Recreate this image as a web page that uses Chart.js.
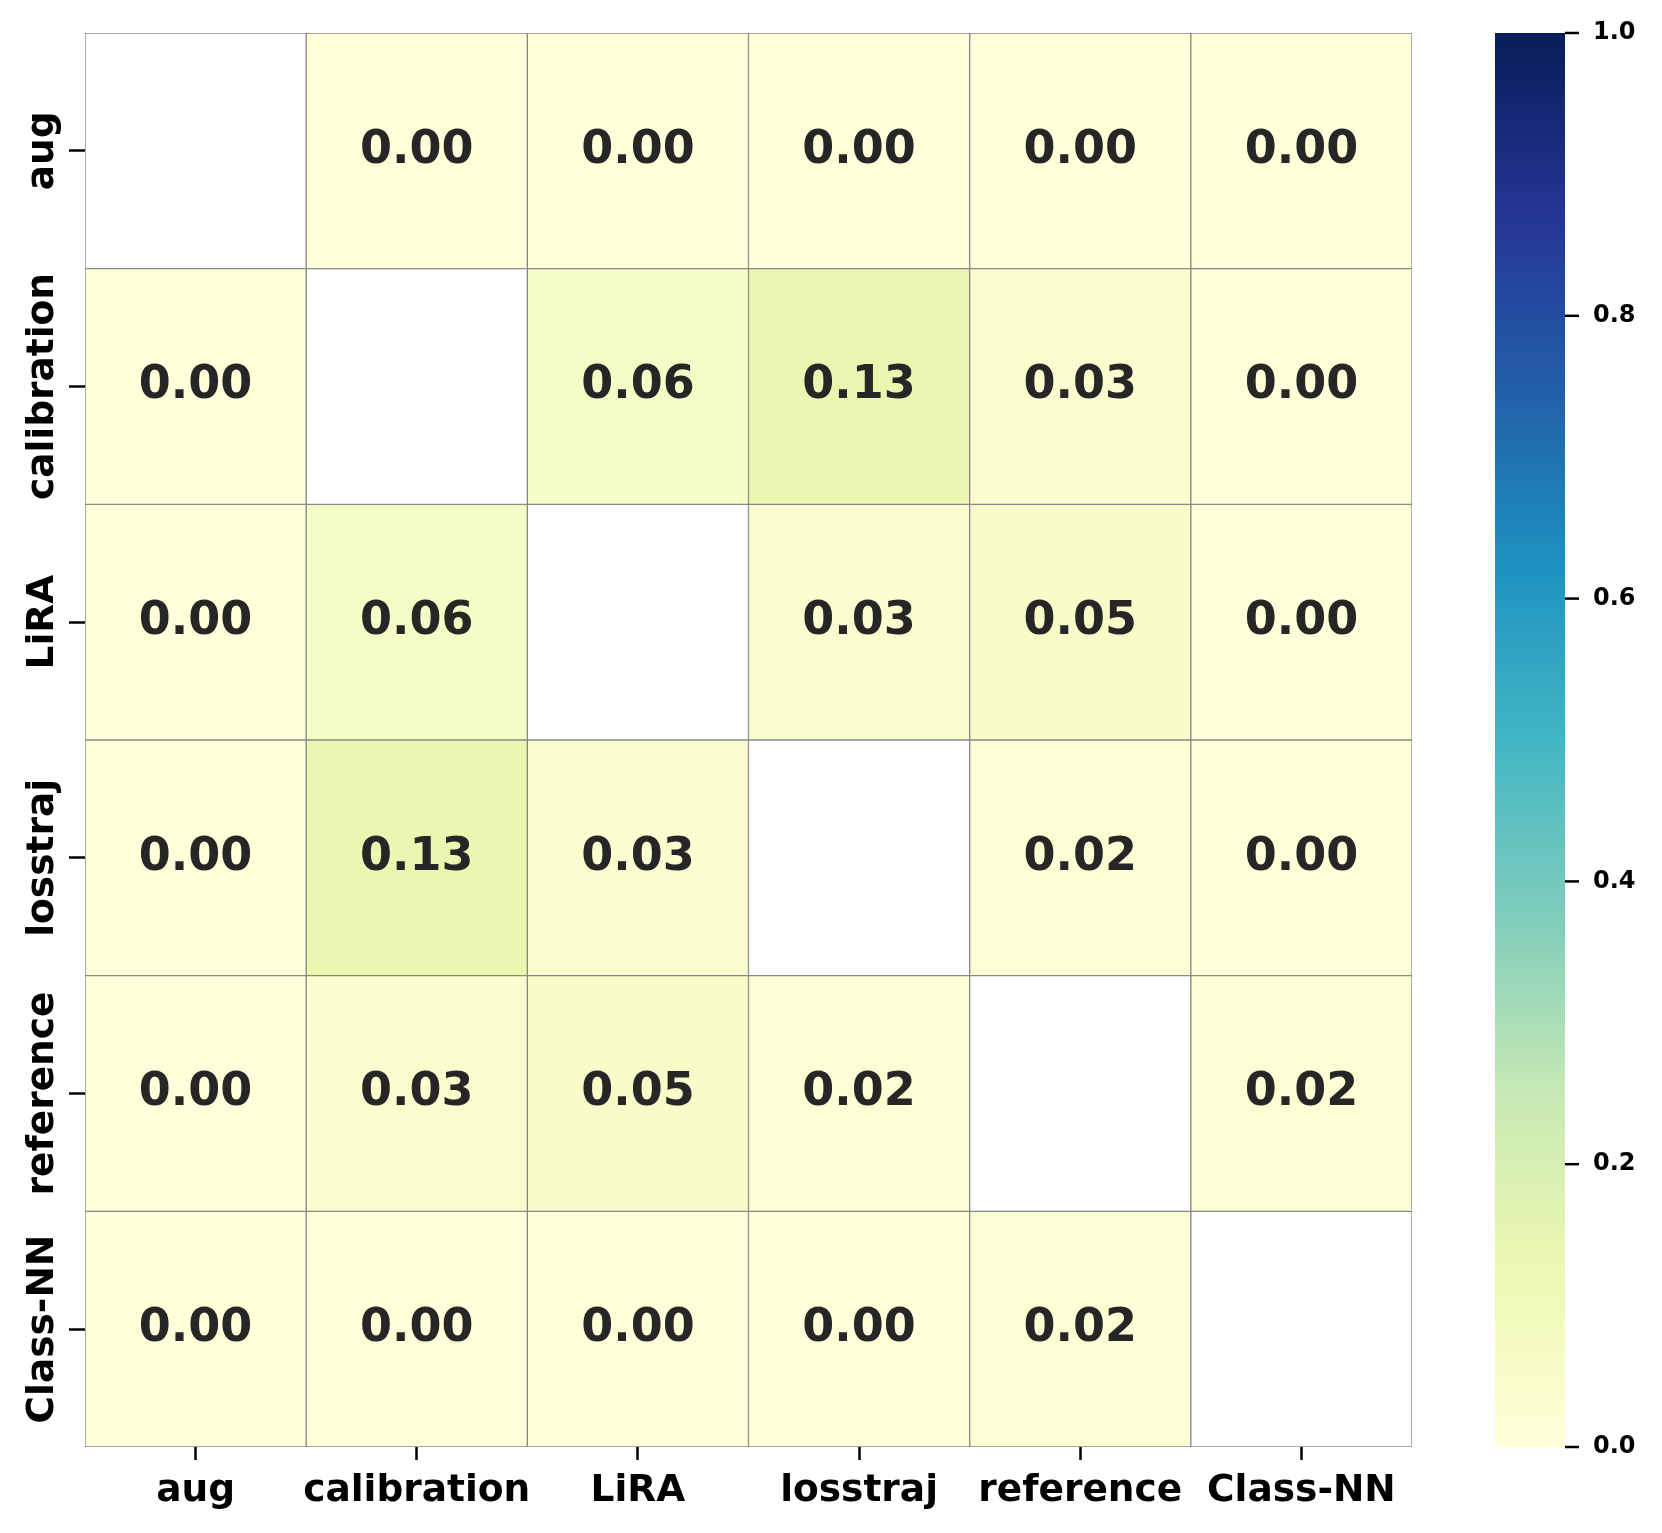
<!DOCTYPE html>
<html>
<head>
<meta charset="utf-8">
<script src="https://cdn.jsdelivr.net/npm/chart.js@4/dist/chart.umd.min.js"></script>
<style>
html,body{margin:0;padding:0;background:#fff;}
#wrap{width:1662px;height:1533px;}
</style>
</head>
<body>
<div id="wrap"><canvas id="c" width="1662" height="1533"></canvas></div>
<script>
// ---- data ----
const categories = ['aug', 'calibration', 'LiRA', 'losstraj', 'reference', 'Class-NN'];
const rowAug         = [null, 0.00, 0.00, 0.00, 0.00, 0.00];
const rowCalibration = [0.00, null, 0.06, 0.13, 0.03, 0.00];
const rowLiRA        = [0.00, 0.06, null, 0.03, 0.05, 0.00];
const rowLosstraj    = [0.00, 0.13, 0.03, null, 0.02, 0.00];
const rowReference   = [0.00, 0.03, 0.05, 0.02, null, 0.02];
const rowClassNN     = [0.00, 0.00, 0.00, 0.00, 0.02, null];
const colorbarTicks  = [0.0, 0.2, 0.4, 0.6, 0.8, 1.0];
const colorMin = 0, colorMax = 1;

const rows = [rowAug, rowCalibration, rowLiRA, rowLosstraj, rowReference, rowClassNN];

// YlGnBu colormap
const ylgnbu = ['#ffffd9','#edf8b1','#c7e9b4','#7fcdbb','#41b6c4','#1d91c0','#225ea8','#253494','#081d58'];
function hexToRgb(h){return [parseInt(h.substr(1,2),16),parseInt(h.substr(3,2),16),parseInt(h.substr(5,2),16)];}
function cmap(v){
  let t = (v - colorMin) / (colorMax - colorMin);
  t = Math.max(0, Math.min(1, t));
  const n = ylgnbu.length - 1;
  const i = Math.min(n - 1, Math.floor(t * n));
  const f = t * n - i;
  const a = hexToRgb(ylgnbu[i]), b = hexToRgb(ylgnbu[i+1]);
  const c = a.map((x,k)=>Math.round(x + (b[k]-x)*f));
  return 'rgb(' + c.join(',') + ')';
}

const FONT = "'DejaVu Sans', sans-serif";

const datasets = rows.map((vals, r) => ({
  label: categories[r],
  data: vals.map(() => [r, r + 1]),
  values: vals,
  backgroundColor: vals.map(v => v === null ? '#ffffff' : cmap(v)),
  borderColor: '#888888',
  borderWidth: 1,
  borderSkipped: false,
  barPercentage: 1,
  categoryPercentage: 1,
  grouped: false
}));

const heatPlugin = {
  id: 'heatPlugin',
  afterDatasetsDraw(chart) {
    const ctx = chart.ctx;
    ctx.save();
    ctx.font = 'bold 46px ' + FONT;
    ctx.fillStyle = '#262626';
    ctx.textAlign = 'center';
    ctx.textBaseline = 'middle';
    chart.data.datasets.forEach((ds, i) => {
      const meta = chart.getDatasetMeta(i);
      meta.data.forEach((el, j) => {
        const v = ds.values[j];
        if (v === null) return;
        const p = el.getCenterPoint();
        ctx.fillText(v.toFixed(2), p.x, p.y);
      });
    });
    ctx.restore();
  },
  afterDraw(chart) {
    const ctx = chart.ctx;
    const ca = chart.chartArea;
    const ys = chart.scales.y;
    ctx.save();
    // y tick labels (rotated)
    ctx.font = 'bold 37.5px ' + FONT;
    ctx.fillStyle = '#000';
    ctx.textAlign = 'center';
    ctx.textBaseline = 'alphabetic';
    categories.forEach((lab, i) => {
      const y = ys.getPixelForValue(i + 0.5);
      ctx.save();
      ctx.translate(ca.left - 32, y);
      ctx.rotate(-Math.PI / 2);
      ctx.fillText(lab, 0, 0);
      ctx.restore();
    });
    // colorbar
    const x0 = ca.right + 83, w = 70, top = ca.top, bot = ca.bottom;
    const g = ctx.createLinearGradient(0, bot, 0, top);
    ylgnbu.forEach((c, k) => g.addColorStop(k / (ylgnbu.length - 1), c));
    ctx.fillStyle = g;
    ctx.fillRect(x0, top, w, bot - top);
    ctx.strokeStyle = '#000';
    ctx.lineWidth = 2.5;
    ctx.font = 'bold 24px ' + FONT;
    ctx.fillStyle = '#000';
    ctx.textAlign = 'left';
    ctx.textBaseline = 'middle';
    colorbarTicks.forEach(t => {
      const y = bot - (t - colorMin) / (colorMax - colorMin) * (bot - top);
      ctx.beginPath();
      ctx.moveTo(x0 + w, y);
      ctx.lineTo(x0 + w + 14, y);
      ctx.stroke();
      ctx.fillText(t.toFixed(1), x0 + w + 28, y);
    });
    ctx.restore();
  }
};

new Chart(document.getElementById('c'), {
  type: 'bar',
  data: { labels: categories, datasets },
  options: {
    responsive: false,
    animation: false,
    devicePixelRatio: 1,
    layout: { padding: { left: 0, right: 250, top: 33, bottom: 0 } },
    plugins: { legend: { display: false }, tooltip: { enabled: false } },
    scales: {
      x: {
        type: 'category',
        offset: true,
        border: { display: false },
        grid: { display: true, drawOnChartArea: false, drawTicks: true, tickLength: 13, tickWidth: 2.5, color: '#000', offset: false },
        ticks: { color: '#000', font: { family: FONT, size: 37.5, weight: 'bold' }, padding: 9, maxRotation: 0, minRotation: 0, autoSkip: false },
        afterFit: (s) => { s.height = 86; }
      },
      y: {
        type: 'linear',
        min: 0, max: 6,
        reverse: true,
        border: { display: false },
        afterBuildTicks: (s) => { s.ticks = categories.map((_, i) => ({ value: i + 0.5 })); },
        grid: { display: true, drawOnChartArea: false, drawTicks: true, tickLength: 16, tickWidth: 2.5, color: '#000' },
        ticks: { display: false },
        afterFit: (s) => { s.width = 85; }
      }
    }
  },
  plugins: [heatPlugin]
});
</script>
</body>
</html>
